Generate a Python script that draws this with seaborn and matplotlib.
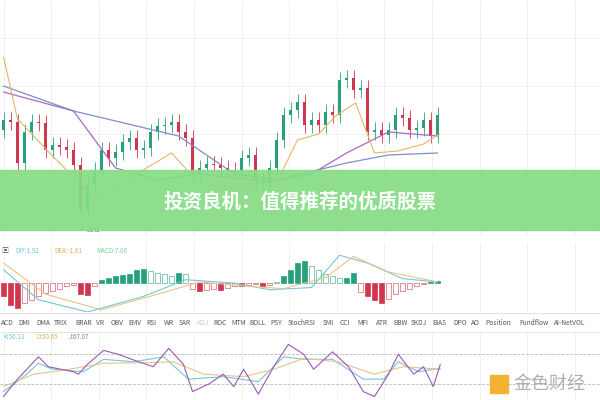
import matplotlib
matplotlib.use("Agg")
import matplotlib.pyplot as plt
from matplotlib.patches import Rectangle
import numpy as np
import seaborn as sns

sns.set_theme(style="white")
plt.rcParams["font.family"] = ["Noto Sans CJK SC", "DejaVu Sans"]

# candle closes (index = candle number)
closes = [130, 128, 87, 118, 128, 127, 100, 105, 103, 100, 85, 40, 65, 80, 100, 92,
          98, 108, 112, 100, 102, 118, 124, 125, 128, 118, 112, 75, 82, 86, 85, 82,
          80, 78, 92, 95, 70, 68, 82, 110, 135, 140, 148, 125, 130, 125, 138, 135,
          170, 172, 160, 162, 118, 120, 115, 120, 135, 132, 120, 122, 130, 115, 135]
first_open = 120

ma_a_x = [0, 10, 25, 33, 39, 49, 55, 62]
ma_a_y = [164, 139, 114, 76, 70, 87, 95, 97]
ma_b_x = [0, 10, 16, 22, 28, 38, 44, 49, 55, 62]
ma_b_y = [158, 139, 82, 70, 76, 68, 76, 97, 118, 114]
ma_s_x = [0, 2, 6.6, 11, 13, 16.4, 19, 24, 27, 30.6, 35, 38.3, 42, 45, 47.6, 50.3, 53, 56.3, 60, 62.3]
ma_s_y = [193, 131, 97, 66, 51, 62, 76, 97, 74, 62, 62, 57, 110, 116, 135, 147, 97, 99, 106, 116]

macd_hist = [-12, -20, -22, -18, -15, -12, -9, -7, -5, -3, -2, -10, -11, -3,
             3, 5, 6, 7, 8, 12, 13, 11, 9, 8, 6, 9, 8,
             -5, -7, -6, -5, -6, -4, -3, -3, -2, -1, -3, -2, 1,
             6, 12, 18, 20, 15, 12, 8, 6, 5, 5, 9,
             -8, -12, -15, -18, -14, -10, -7, -5, -3, -1, 1, 2]
dif_x = [0, 5, 12, 20, 26, 33, 38, 44, 48, 52, 57, 62]
dif_y = [12, -15, -26, -12, 3, 0, -6, -4, 25, 18, 4, 1]
dea_x = [0, 6, 14, 22, 28, 35, 40, 46, 50, 55, 62]
dea_y = [18, -10, -24, -10, 1, -3, -5, 5, 24, 10, 1]

j_x = [0, 2, 5, 6.4, 10, 10.7, 12, 14.3, 16.4, 19.3, 21.4, 23.6, 25.7, 27, 29.3, 31.4,
       32.9, 34.3, 36.4, 38.6, 40.7, 42.9, 44.3, 47, 49.3, 51.4, 53, 55, 56.4, 58.6, 60, 61.4, 62.4]
j_y = [-5, 30, 75, 55, 45, 40, 60, 88, 80, 65, 55, 92, 60, 5, 20, 40,
       15, 50, 0, 55, 100, 80, 50, 85, 55, 5, -5, 40, 80, 40, 55, 15, 60]
k_x = [0, 2.9, 5, 7, 11.4, 14.3, 18.6, 22.9, 26.4, 31.4, 36.4, 40, 42.9, 47, 51.4, 54.3, 56.4, 59.3, 62.4]
k_y = [5, 35, 62, 50, 45, 70, 65, 75, 30, 35, 25, 75, 70, 70, 30, 30, 65, 45, 52]
d_x = [0, 4.3, 8.6, 14.3, 20, 24.3, 28.6, 34.3, 38.6, 42.9, 47.9, 52.9, 57.1, 62.4]
d_y = [15, 40, 48, 62, 63, 65, 40, 35, 50, 72, 65, 40, 55, 50]

tabs = ["ACD", "DMI", "DMA", "TRIX", "BRAR", "VR", "OBV", "EMV", "RSI", "WR", "SAR", "KDJ",
        "ROC", "MTM", "BOLL", "PSY", "StochRSI", "SMI", "CCI", "MFI", "ATR", "BBW", "SKDJ",
        "BIAS", "DPO", "AO", "Position", "Fundflow", "AI-NetVOL"]

UP, DOWN = "#26a17b", "#d0364e"
W, H = 600, 400
fig = plt.figure(figsize=(6, 4), dpi=100)


def px_axes(top, bottom):
    return fig.add_axes([0, 1 - bottom / H, 1, (bottom - top) / H])


def grid(ax):
    for sp in ax.spines.values():
        sp.set_visible(False)
    ax.set_xticks(np.arange(0, 86, 6.8))
    ax.tick_params(length=0, labelbottom=False, labelleft=False)
    ax.grid(True, color="#eeeeee", lw=0.6)
    ax.set_xlim(-0.5, W / 7 - 0.5)


# price panel
ax = px_axes(0, 236)
grid(ax)
ax.set_ylim(14, 250)
ax.set_yticks(np.arange(20, 250, 48))
opens = [first_open] + closes[:-1]
for i, (o, c) in enumerate(zip(opens, closes)):
    col = UP if c >= o else DOWN
    ax.vlines(i, min(o, c) - 8, max(o, c) + 8, color=col, lw=0.6)
    ax.add_patch(Rectangle((i - 0.25, min(o, c)), 0.5, max(abs(c - o), 1), color=col, lw=0))
ax.plot(ma_a_x, ma_a_y, color="#7f8fc9", lw=0.9)
ax.plot(ma_b_x, ma_b_y, color="#a86bbf", lw=0.9)
ax.plot(ma_s_x, ma_s_y, color="#e6b56a", lw=0.8)
ax.text(11, 18, "← 9841", fontsize=4, color="#333333")

# banner
fig.patches.append(Rectangle((0, 1 - 230 / H), 1, 60 / H, transform=fig.transFigure,
                             color="#86dc86", alpha=0.93, zorder=5))
fig.text(0.5, 1 - 202 / H, "投资良机：值得推荐的优质股票", ha="center", va="center",
         fontsize=14, fontweight="bold", color="white", zorder=6)

# MACD panel
ax2 = px_axes(243, 312)
grid(ax2)
ax2.set_ylim(-26, 36)
ax2.set_yticks([])
for i, v in enumerate(macd_hist):
    prev = abs(macd_hist[i - 1]) if i else 0
    col = UP if v >= 0 else DOWN
    fill = abs(v) >= prev
    ax2.bar(i, v, width=0.6, color=col if fill else "white", edgecolor=col, lw=0.5,
            alpha=1 if fill else 0.8)
ax2.plot(dif_x, dif_y, color="#74c7d6", lw=0.8)
ax2.plot(dea_x, dea_y, color="#e9c48a", lw=0.8)
fig.text(0.002, 1 - 251 / H, "▣", fontsize=5, color="#555555", va="center")
for x, s, c in [(0.025, "DIF:1.92", "#74c7d6"), (0.09, "DEA:-1.61", "#e0b05a"),
                (0.16, "MACD:7.06", "#7fcf9a")]:
    fig.text(x, 1 - 251 / H, s, fontsize=4.5, color=c, va="center")

# tab row
for y in (313, 332):
    fig.add_artist(plt.Line2D([0, 1], [1 - y / H] * 2, color="#dddddd", lw=0.6))
pos = [0]
for t in tabs[:-1]:
    pos.append(pos[-1] + len(t) * 4.3 + 10)
scale = 553 / pos[-1]
for p, t in zip(pos, tabs):
    fig.text((p * scale + 1) / W, 1 - 323 / H, t, fontsize=4.8,
             color="#cccccc" if t == "KDJ" else "#555555", va="center")

# KDJ panel
ax3 = px_axes(332, 400)
grid(ax3)
ax3.set_ylim(-12, 125)
ax3.set_yticks([])
for lvl in (20, 80):
    ax3.axhline(lvl, color="#bbbbbb", lw=0.6, ls="--")
ax3.plot(k_x, k_y, color="#74c7d6", lw=0.8)
ax3.plot(d_x, d_y, color="#e9c48a", lw=0.8)
ax3.plot(j_x, j_y, color="#9b59b6", lw=0.8)
for x, s, c in [(0.005, "K:56.13", "#74c7d6"), (0.06, "D:50.65", "#e0b05a"),
                (0.115, "J:67.07", "#a070c0")]:
    fig.text(x, 1 - 337 / H, s, fontsize=4.5, color=c, va="center")

# watermark
fig.patches.append(Rectangle((490 / W, 1 - 393 / H), 18 / W, 18 / H, transform=fig.transFigure,
                             color="#f2b233", zorder=7))
fig.text(513 / W, 1 - 384 / H, "金色财经", fontsize=13, color="#9a9a9a",
         va="center", alpha=0.8, zorder=7)

fig.savefig("out.png", dpi=100)
